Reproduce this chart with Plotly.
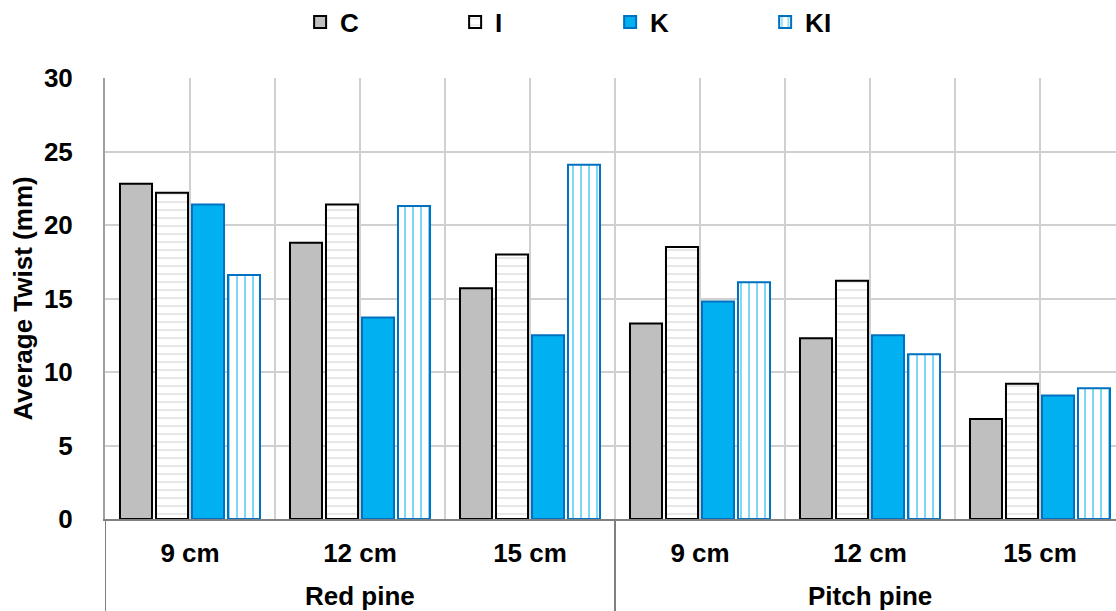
import plotly.graph_objects as go

species = ["Red pine", "Pitch pine"]
sizes = ["9 cm", "12 cm", "15 cm"]
series_names = ["C", "I", "K", "KI"]
C_vals = [22.8, 18.8, 15.7, 13.3, 12.3, 6.8]
I_vals = [22.2, 21.4, 18.0, 18.5, 16.2, 9.2]
K_vals = [21.4, 13.7, 12.5, 14.8, 12.5, 8.4]
KI_vals = [16.6, 21.3, 24.1, 16.1, 11.2, 8.9]
y_ticks = [0, 5, 10, 15, 20, 25, 30]

n_groups = len(species) * len(sizes)
centers = [i + 0.5 for i in range(n_groups)]
tick_text = sizes * len(species)

FONT = "Arial, 'Liberation Sans', sans-serif"
FS = 26

styles = {
    "C": dict(color="#bfbfbf", line=dict(color="#000000", width=2)),
    "I": dict(color="#ffffff", line=dict(color="#000000", width=2),
              pattern=dict(shape="-", fgcolor="#c4c4c4", bgcolor="#ffffff", size=8, solidity=0.2)),
    "K": dict(color="#00b0f0", line=dict(color="#0070c0", width=2)),
    "KI": dict(color="#ffffff", line=dict(color="#0070c0", width=2),
               pattern=dict(shape="|", fgcolor="#00b0f0", bgcolor="#ffffff", size=8, solidity=0.25)),
}

fig = go.Figure()
for name, vals in zip(series_names, [C_vals, I_vals, K_vals, KI_vals]):
    fig.add_trace(go.Bar(x=centers, y=vals, name=name, marker=styles[name]))

W, H = 1116, 611
L, R, T, B = 105, 0, 78, 92
plot_w = W - L - R
plot_h = H - T - B
x_max = plot_w / 170.0

fig.update_layout(
    width=W, height=H,
    margin=dict(l=L, r=R, t=T, b=B, autoexpand=False),
    paper_bgcolor="white", plot_bgcolor="white",
    barmode="group", bargap=0.153, bargroupgap=0.11,
    font=dict(family=FONT, size=FS, color="#000000"),
    legend=dict(orientation="h", x=0.193, xanchor="left", y=1 - 22 / H, yref="container", yanchor="middle",
                font=dict(family=FONT, size=FS, color="#000000", weight="bold"),
                entrywidth=110, entrywidthmode="pixels", traceorder="normal"),
    xaxis=dict(range=[0, x_max], tickvals=centers, ticktext=tick_text,
               showgrid=True, gridcolor="#d0d0d0", gridwidth=2,
               minor=dict(tickvals=list(range(n_groups + 1)), showgrid=True, gridcolor="#d0d0d0", gridwidth=2),
               showline=True, linecolor="#808080", linewidth=2,
               ticks="outside", ticklen=10, tickcolor="rgba(0,0,0,0)",
               tickfont=dict(family=FONT, size=FS, color="#000000", weight="bold"),
               zeroline=False, fixedrange=True),
    yaxis=dict(range=[0, 30], tickvals=y_ticks, showgrid=True, gridcolor="#d0d0d0", gridwidth=2,
               showline=True, linecolor="#a0a0a0", linewidth=2, zeroline=False,
               ticks="outside", ticklen=25, tickcolor="rgba(0,0,0,0)",
               tickfont=dict(family=FONT, size=FS, color="#000000", weight="bold")),
    showlegend=True,
)

# y-axis title
fig.add_annotation(text="Average Twist (mm)", xref="paper", yref="paper", x=-83 / plot_w, y=0.5,
                   xanchor="center", yanchor="middle", textangle=-90, showarrow=False,
                   font=dict(family=FONT, size=FS, color="#000000", weight="bold"))

# species labels and separators
for i, sp in enumerate(species):
    cx = len(sizes) * i + len(sizes) / 2
    fig.add_annotation(text=sp, xref="x", yref="paper", x=cx, y=-(596 - 519) / plot_h,
                       xanchor="center", yanchor="middle", showarrow=False,
                       font=dict(family=FONT, size=FS, color="#000000", weight="bold"))
for i in range(len(species)):
    xb = len(sizes) * i
    fig.add_shape(type="line", xref="x", yref="paper", x0=xb, x1=xb, y0=0, y1=-(611 - 519) / plot_h,
                  line=dict(color="#808080", width=2))

fig.write_html("out.html", config={"displayModeBar": False},
               post_script="document.body.style.margin='0';")
